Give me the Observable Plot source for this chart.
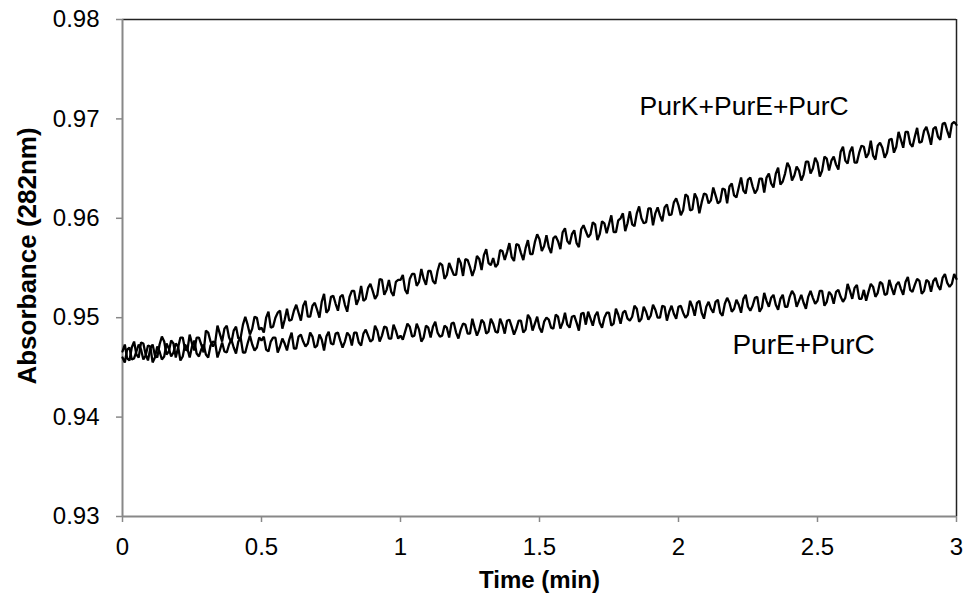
<!DOCTYPE html>
<html>
<head>
<meta charset="utf-8">
<script src="https://cdn.jsdelivr.net/npm/d3@7"></script>
<script src="https://cdn.jsdelivr.net/npm/@observablehq/plot@0.6"></script>
<style>
  html, body { margin: 0; padding: 0; background: #fff; }
  #chart { width: 963px; height: 600px; }
</style>
</head>
<body>
<div id="chart"></div>
<script>
// Absorbance (282 nm) traces, one reading every 0.5 s (1/120 min), 0 to 3 min
const purKEC = [
0.9466,0.9473,0.9459,0.9457,0.9470,0.9476,0.9463,0.9460,0.9475,0.9474,0.9463,0.9457,0.9469,0.9473,0.9462,0.9460,0.9473,0.9481,0.9476,0.9463,
0.9466,0.9477,0.9474,0.9460,0.9470,0.9480,0.9480,0.9468,0.9467,0.9483,0.9474,0.9467,0.9480,0.9480,0.9473,0.9465,0.9487,0.9485,0.9476,0.9471,
0.9475,0.9492,0.9484,0.9476,0.9489,0.9492,0.9480,0.9475,0.9487,0.9491,0.9479,0.9480,0.9493,0.9501,0.9493,0.9483,0.9489,0.9501,0.9500,0.9488,
0.9490,0.9485,0.9500,0.9506,0.9490,0.9491,0.9500,0.9505,0.9507,0.9489,0.9498,0.9509,0.9497,0.9498,0.9507,0.9513,0.9505,0.9497,0.9512,0.9517,
0.9501,0.9501,0.9512,0.9515,0.9508,0.9500,0.9516,0.9524,0.9505,0.9508,0.9521,0.9522,0.9514,0.9507,0.9521,0.9523,0.9513,0.9506,0.9521,0.9527,
0.9527,0.9513,0.9519,0.9532,0.9517,0.9519,0.9530,0.9534,0.9527,0.9519,0.9523,0.9539,0.9538,0.9523,0.9528,0.9538,0.9526,0.9522,0.9536,0.9538,
0.9538,0.9543,0.9528,0.9524,0.9539,0.9544,0.9544,0.9532,0.9536,0.9549,0.9539,0.9533,0.9547,0.9547,0.9537,0.9534,0.9547,0.9555,0.9553,0.9539,
0.9543,0.9555,0.9549,0.9543,0.9543,0.9560,0.9555,0.9542,0.9559,0.9558,0.9551,0.9542,0.9549,0.9562,0.9559,0.9548,0.9563,0.9569,0.9555,0.9553,
0.9560,0.9551,0.9554,0.9568,0.9567,0.9558,0.9566,0.9575,0.9561,0.9557,0.9574,0.9573,0.9565,0.9558,0.9570,0.9578,0.9564,0.9564,0.9576,0.9584,
0.9579,0.9567,0.9572,0.9583,0.9571,0.9565,0.9580,0.9582,0.9577,0.9569,0.9586,0.9590,0.9577,0.9574,0.9584,0.9588,0.9575,0.9571,0.9589,0.9593,
0.9587,0.9581,0.9584,0.9596,0.9594,0.9578,0.9584,0.9597,0.9595,0.9585,0.9594,0.9603,0.9586,0.9586,0.9598,0.9600,0.9605,0.9587,0.9595,0.9607,
0.9594,0.9592,0.9605,0.9612,0.9600,0.9595,0.9596,0.9610,0.9610,0.9593,0.9605,0.9611,0.9603,0.9597,0.9611,0.9614,0.9603,0.9604,0.9616,0.9620,
0.9613,0.9603,0.9608,0.9624,0.9622,0.9608,0.9609,0.9625,0.9620,0.9605,0.9616,0.9625,0.9624,0.9615,0.9618,0.9631,0.9623,0.9615,0.9617,0.9630,
0.9629,0.9615,0.9632,0.9635,0.9623,0.9621,0.9631,0.9641,0.9628,0.9625,0.9639,0.9641,0.9632,0.9625,0.9629,0.9640,0.9640,0.9626,0.9641,0.9645,
0.9635,0.9631,0.9645,0.9651,0.9634,0.9637,0.9645,0.9656,0.9651,0.9638,0.9643,0.9652,0.9648,0.9638,0.9644,0.9657,0.9657,0.9645,0.9650,0.9661,
0.9656,0.9642,0.9648,0.9662,0.9660,0.9648,0.9658,0.9662,0.9654,0.9649,0.9667,0.9672,0.9658,0.9655,0.9667,0.9672,0.9656,0.9656,0.9666,0.9673,
0.9672,0.9661,0.9665,0.9678,0.9663,0.9659,0.9673,0.9676,0.9671,0.9661,0.9666,0.9679,0.9680,0.9666,0.9672,0.9687,0.9679,0.9671,0.9687,0.9687,
0.9675,0.9672,0.9682,0.9691,0.9676,0.9677,0.9688,0.9692,0.9684,0.9674,0.9690,0.9692,0.9682,0.9679,0.9695,0.9696,0.9688,0.9681,0.9695,0.9697,
0.9694
];
const purEC = [
0.9460,0.9455,0.9468,0.9470,0.9458,0.9459,0.9466,0.9473,0.9468,0.9458,0.9462,0.9472,0.9471,0.9455,0.9460,0.9471,0.9466,0.9458,0.9461,0.9474,
0.9469,0.9461,0.9465,0.9474,0.9471,0.9457,0.9461,0.9473,0.9469,0.9460,0.9471,0.9477,0.9464,0.9461,0.9468,0.9473,0.9463,0.9460,0.9472,0.9476,
0.9475,0.9460,0.9467,0.9475,0.9466,0.9465,0.9473,0.9478,0.9470,0.9464,0.9476,0.9480,0.9465,0.9465,0.9474,0.9482,0.9473,0.9467,0.9470,0.9480,
0.9477,0.9481,0.9468,0.9466,0.9476,0.9480,0.9480,0.9465,0.9471,0.9479,0.9474,0.9467,0.9478,0.9485,0.9469,0.9469,0.9481,0.9483,0.9476,0.9471,
0.9474,0.9485,0.9481,0.9470,0.9472,0.9483,0.9478,0.9467,0.9481,0.9486,0.9474,0.9473,0.9484,0.9485,0.9477,0.9470,0.9476,0.9485,0.9482,0.9472,
0.9485,0.9485,0.9475,0.9472,0.9484,0.9488,0.9482,0.9476,0.9478,0.9492,0.9487,0.9476,0.9482,0.9491,0.9490,0.9479,0.9479,0.9493,0.9487,0.9479,
0.9482,0.9478,0.9486,0.9494,0.9491,0.9481,0.9482,0.9494,0.9488,0.9476,0.9480,0.9492,0.9490,0.9480,0.9491,0.9496,0.9485,0.9481,0.9482,0.9492,
0.9490,0.9480,0.9494,0.9495,0.9485,0.9479,0.9488,0.9494,0.9493,0.9484,0.9484,0.9499,0.9490,0.9482,0.9488,0.9498,0.9495,0.9484,0.9486,0.9499,
0.9494,0.9486,0.9485,0.9499,0.9493,0.9484,0.9497,0.9498,0.9491,0.9483,0.9489,0.9497,0.9497,0.9485,0.9488,0.9503,0.9499,0.9487,0.9494,0.9501,
0.9490,0.9485,0.9496,0.9500,0.9498,0.9490,0.9489,0.9503,0.9501,0.9489,0.9495,0.9505,0.9493,0.9490,0.9501,0.9502,0.9495,0.9487,0.9504,0.9505,
0.9493,0.9506,0.9499,0.9492,0.9502,0.9506,0.9495,0.9490,0.9500,0.9505,0.9505,0.9492,0.9494,0.9509,0.9503,0.9494,0.9505,0.9507,0.9499,0.9497,
0.9501,0.9512,0.9509,0.9496,0.9499,0.9511,0.9506,0.9498,0.9502,0.9513,0.9508,0.9500,0.9500,0.9512,0.9511,0.9497,0.9506,0.9512,0.9504,0.9499,
0.9511,0.9512,0.9505,0.9500,0.9503,0.9517,0.9511,0.9502,0.9515,0.9517,0.9505,0.9499,0.9511,0.9516,0.9509,0.9505,0.9516,0.9518,0.9505,0.9502,
0.9514,0.9520,0.9515,0.9506,0.9509,0.9518,0.9513,0.9505,0.9519,0.9523,0.9511,0.9507,0.9512,0.9520,0.9521,0.9506,0.9510,0.9525,0.9517,0.9511,
0.9520,0.9523,0.9513,0.9508,0.9519,0.9523,0.9511,0.9511,0.9521,0.9527,0.9523,0.9511,0.9517,0.9523,0.9515,0.9509,0.9521,0.9527,0.9520,0.9514,
0.9517,0.9527,0.9527,0.9512,0.9516,0.9526,0.9523,0.9514,0.9526,0.9528,0.9521,0.9516,0.9520,0.9534,0.9527,0.9519,0.9530,0.9533,0.9519,0.9519,
0.9528,0.9517,0.9526,0.9534,0.9531,0.9521,0.9525,0.9536,0.9534,0.9523,0.9524,0.9538,0.9530,0.9523,0.9533,0.9536,0.9529,0.9523,0.9536,0.9541,
0.9528,0.9526,0.9533,0.9539,0.9537,0.9524,0.9527,0.9538,0.9536,0.9526,0.9537,0.9540,0.9532,0.9528,0.9540,0.9544,0.9535,0.9531,0.9534,0.9544,
0.9539
];
// sampling grid (minutes): one reading per 0.5 s
const time = d3.range(purKEC.length).map(i => i / 120);

const xTicks = [0, 0.5, 1, 1.5, 2, 2.5, 3];
const xTickLabels = ["0", "0.5", "1", "1.5", "2", "2.5", "3"];
const yTicks = [0.93, 0.94, 0.95, 0.96, 0.97, 0.98];
const yTickLabels = ["0.93", "0.94", "0.95", "0.96", "0.97", "0.98"];

const seriesNames = ["PurK+PurE+PurC", "PurE+PurC"];
const labelTime = [1.86, 2.194];
const labelAbs = [0.9712, 0.9473];

const xTitle = "Time (min)";
const yTitle = "Absorbance (282nm)";

const upper = time.map((t, i) => ({t, v: purKEC[i]}));
const lower = time.map((t, i) => ({t, v: purEC[i]}));
const labels = seriesNames.map((name, i) => ({name, t: labelTime[i], v: labelAbs[i]}));

const font = "'Liberation Sans', Arial, Helvetica, sans-serif";
const axisGray = "#888888";

const chart = Plot.plot({
  width: 963,
  height: 600,
  marginLeft: 122,
  marginRight: 7,
  marginTop: 19,
  marginBottom: 84,
  style: {fontFamily: font, fontSize: "24px", color: "#000", background: "#fff"},
  x: {domain: [0, 3]},
  y: {domain: [0.93, 0.98]},
  marks: [
    Plot.axisY({
      ticks: yTicks,
      tickFormat: d => yTickLabels[yTicks.indexOf(d)],
      tickSize: 6,
      tickPadding: 17,
      stroke: axisGray,
      strokeWidth: 1.5,
      fontSize: 24,
      label: null
    }),
    Plot.axisX({
      ticks: xTicks,
      tickFormat: d => xTickLabels[xTicks.indexOf(d)],
      tickSize: 6,
      tickPadding: 15,
      stroke: axisGray,
      strokeWidth: 1.5,
      fontSize: 24,
      label: null
    }),
    Plot.ruleY([0.98], {stroke: "#222", strokeWidth: 1.5}),
    Plot.ruleX([3], {stroke: "#222", strokeWidth: 1.5}),
    Plot.ruleX([0], {stroke: axisGray, strokeWidth: 2}),
    Plot.ruleY([0.93], {stroke: axisGray, strokeWidth: 2}),
    Plot.line(upper, {x: "t", y: "v", stroke: "#000", strokeWidth: 2.3, strokeLinejoin: "miter"}),
    Plot.line(lower, {x: "t", y: "v", stroke: "#000", strokeWidth: 2.3, strokeLinejoin: "miter"}),
    Plot.text(labels, {x: "t", y: "v", text: "name", textAnchor: "start", lineAnchor: "middle", fontSize: d => d.name.length > 10 ? 26.5 : 28, fill: "#000"}),
    Plot.text([xTitle], {text: d => d, frameAnchor: "bottom", dy: 64, lineAnchor: "middle", fontSize: 24, fontWeight: "bold", fill: "#000"}),
    Plot.text([yTitle], {text: d => d, frameAnchor: "left", dx: -95, dy: -12, rotate: -90, textAnchor: "middle", lineAnchor: "middle", fontSize: 26, fontWeight: "bold", fill: "#000"})
  ]
});

document.getElementById("chart").appendChild(chart);
</script>
</body>
</html>
